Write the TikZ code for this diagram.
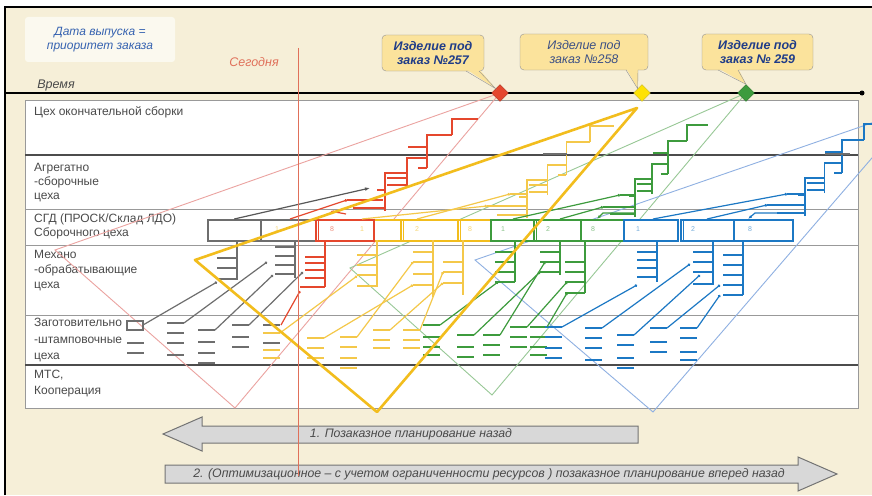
\documentclass[tikz,border=0pt]{standalone}
\usepackage{fontspec}
\setmainfont{Liberation Sans}
\usetikzlibrary{arrows.meta,shapes.geometric}
\definecolor{cream}{HTML}{F6EFD8}
\definecolor{txt}{HTML}{4A4A4A}
\definecolor{gord}{HTML}{6E6E6E}
\definecolor{rord}{HTML}{E5472D}
\definecolor{yord}{HTML}{F2BD1D}
\definecolor{ylt}{HTML}{F4C84A}
\definecolor{gnord}{HTML}{3D9B3D}
\definecolor{bord}{HTML}{1C78C4}
\definecolor{rtri}{HTML}{EBA3A0}
\definecolor{gtri}{HTML}{98C896}
\definecolor{btri}{HTML}{8FB0E2}
\definecolor{callfill}{HTML}{FBE39C}
\definecolor{navy}{HTML}{1F3C88}
\definecolor{tlblue}{HTML}{3562B0}
\definecolor{arrfill}{HTML}{D8D8D8}
\definecolor{today}{HTML}{E0705A}
\tikzset{
 rowlbl/.style={anchor=north west, align=left, inner sep=0pt, text=txt, font=\fontsize{12}{13.8}\selectfont},
 sgdbox/.style={draw=#1, fill=white, line width=1.5pt, minimum height=21pt, inner sep=0pt, anchor=north west, rectangle},
 boxnum/.style={font=\fontsize{7}{8}\selectfont, text=#1!60, inner sep=0pt},
 conn/.style={line width=1.2pt, -{Circle[length=2.6pt]}},
 tick/.style={line width=1.5pt},
 callbox/.style={draw=gray!85, fill=callfill, rounded corners=4pt, minimum height=36pt, align=center, inner sep=1pt, font=\fontsize{12.5}{13.5}\selectfont\bfseries\itshape, text=navy},
 mark/.style={diamond, minimum size=17pt, inner sep=0pt, draw=#1!75!black, fill=#1},
 bigarrow/.style={fill=arrfill, draw=gray!90!black, line width=1pt},
 arrtext/.style={font=\fontsize{12.3}{13}\selectfont\itshape, text=txt, inner sep=0pt}
}
\newcommand\stairs[4]{%
\begin{scope}[shift={(#2,#3)}, xscale=#4]
\draw[#1, line width=1.6pt] (0,0) -- (0,-38) -- (22,-38)
  (22,-23) -- (22,-53) -- (42,-53)
  (42,-43) -- (42,-76) -- (67,-76)
  (67,-76) -- (67,-92) -- (93,-92)
  (2,-33) -- (22,-33) (2,-26) -- (22,-26)
  (23,-64) -- (42,-64) (33,-43) -- (42,-43)
  (-8,-21) -- (0,-21) (-32,-3) -- (0,-3);
\end{scope}}
\newcommand\brk[5]{%
 \draw[#1, tick] (#2,#3) -- (#2,#4);
 \foreach \t in {#5} \draw[#1, tick] (#2-20,\t) -- (#2,\t);}
\newcommand\dcol[3]{\foreach \t in {#3} \draw[#1, tick] (#2,\t) -- (#2+17,\t);}
\begin{document}
\begin{tikzpicture}[x=1pt,y=-1pt]
\useasboundingbox (0,0) rectangle (872,495);
\fill[white] (0,0) rectangle (872,495);
\fill[cream] (5,7) rectangle (872,495);
\draw[black, line width=2.5pt] (5,495) -- (5,7) -- (872,7);

% table
\filldraw[fill=white, draw=gray!80, line width=0.9pt] (25,100) rectangle (858,408);
\draw[line width=1.3pt, black!70] (25,155) -- (858,155);
\draw[gray!80, line width=0.9pt] (25,209) -- (858,209) (25,245) -- (858,245) (25,315) -- (858,315);
\draw[line width=1.3pt, black!70] (25,365) -- (858,365);

\node[rowlbl] (r1) at (34,106) {Цех окончательной сборки};
\node[rowlbl] (r2) at (34,163) {Агрегатно\\-сборочные\\цеха};
\node[rowlbl] (r3) at (34,214) {СГД (ПРОСК/Склад ЛДО)\\Сборочного цеха};
\node[rowlbl, font=\fontsize{12}{15}\selectfont] (r4) at (34,250) {Механо\\-обрабатывающие\\цеха};
\node[rowlbl, font=\fontsize{12}{16.5}\selectfont] (r5) at (34,318) {Заготовительно\\-штамповочные\\цеха};
\node[rowlbl, font=\fontsize{12}{16}\selectfont] (r6) at (34,370) {МТС,\\Кооперация};

% thin triangles
\draw[rtri, line width=0.9pt] (500,93) -- (55,250) -- (235,408) -- cycle;
\draw[gtri, line width=0.9pt] (746,93) -- (350,268) -- (492,395) -- cycle;
\draw[btri, line width=0.9pt] (915,108) -- (475,260) -- (653,412) -- cycle;

% staircases
\stairs{rord}{385}{211}{1}
\stairs{ylt}{527}{218}{0.94}
\stairs{gnord}{635}{217}{0.78}
\stairs{bord}{805}{216}{0.88}
\draw[gord, line width=1.5pt] (543,154) -- (567,154) (825,154) -- (850,154);

% SGD boxes
\node[sgdbox=gord, minimum width=53pt] (gb1) at (207,219) {};
\node[sgdbox=gord, minimum width=55pt] (gb2) at (260,219) {};
\node[sgdbox=yord, minimum width=53pt] (yb1) at (347,219) {};
\node[sgdbox=rord, minimum width=58pt] (rb1) at (315,219) {};
\node[sgdbox=yord, minimum width=57pt] (yb2) at (400,219) {};
\node[sgdbox=yord, minimum width=33pt] (yb3) at (457,219) {};
\node[sgdbox=gnord, minimum width=43pt] (nb1) at (490,219) {};
\node[sgdbox=gnord, minimum width=47pt] (nb2) at (533,219) {};
\node[sgdbox=gnord, minimum width=43pt] (nb3) at (580,219) {};
\node[sgdbox=bord, minimum width=54pt] (bb1) at (623,219) {};
\node[sgdbox=bord, minimum width=53pt] (bb2) at (680,219) {};
\node[sgdbox=bord, minimum width=59pt] (bb3) at (733,219) {};
\draw[rord, line width=1.5pt] (318.5,219) -- (318.5,240);
\draw[yord, line width=1.5pt] (403.5,219) -- (403.5,240) (460.5,219) -- (460.5,240);
\draw[gnord, line width=1.5pt] (536.5,219) -- (536.5,240);
\draw[bord, line width=1.5pt] (683.5,219) -- (683.5,240);
\node[boxnum=yord] (lg2) at (277,229.5) {1};
\node[boxnum=rord] (lr1) at (332,229.5) {8};
\node[boxnum=yord] (ly1) at (362,229.5) {1};
\node[boxnum=yord] (ly2) at (417,229.5) {2};
\node[boxnum=yord] (ly3) at (470,229.5) {8};
\node[boxnum=gnord] (ln1) at (503,229.5) {1};
\node[boxnum=gnord] (ln2) at (548,229.5) {2};
\node[boxnum=gnord] (ln3) at (593,229.5) {8};
\node[boxnum=bord] (lb1) at (638,229.5) {1};
\node[boxnum=bord] (lb2) at (693,229.5) {2};
\node[boxnum=bord] (lb3) at (750,229.5) {8};

% box -> staircase connectors
\draw[gord!80!black, line width=1.2pt, -{Latex[length=5pt]}] (gb1.north) -- (370,188);
\draw[rord, conn] (290,219) -- (347,200);
\draw[rord, line width=1.4pt] (347,200) -- (383,200);
\draw[rord, line width=1.2pt, -{Latex[length=4pt]}] (346,214) -- (330,211);
\draw[ylt, conn] (362,219) -- (487,206);
\draw[ylt, line width=1.4pt] (487,206) -- (527,206);
\draw[ylt, conn] (417,219) -- (510,194);
\draw[ylt, line width=1.4pt] (510,194) -- (527,194);
\draw[gnord, conn] (513,219) -- (620,195);
\draw[gnord, line width=1.4pt] (620,195) -- (635,195);
\draw[gnord, conn] (560,219) -- (603,207);
\draw[gnord, line width=1.4pt] (603,207) -- (635,207);
\draw[gnord, line width=1.2pt, -{Latex[length=4pt]}] (635,213) -- (603,213) -- (597,219);
\draw[bord, conn] (653,219) -- (787,194);
\draw[bord, line width=1.4pt] (787,194) -- (805,194);
\draw[bord, conn] (707,219) -- (767,205);
\draw[bord, line width=1.4pt] (767,205) -- (805,205);
\draw[bord, line width=1.2pt, -{Latex[length=4pt]}] (805,213) -- (755,213) -- (748,219);

% brackets (Mechano row)
\brk{gord}{237}{240}{280}{258,268,279}
\brk{gord}{295}{240}{278}{247,256,265,274}
\brk{rord}{325}{240}{287}{257,263,270,278}
\draw[rord, tick] (300,287) -- (325,287);
\brk{ylt}{377}{240}{287}{255,265,275,286}
\brk{ylt}{433}{240}{297}{252,262,274,285}
\brk{ylt}{463}{240}{295}{262,272,283}
\brk{gnord}{515}{240}{282}{252,262,272,282}
\brk{gnord}{560}{240}{275}{252,262,272}
\brk{gnord}{585}{240}{293}{262,272,282,293}
\brk{bord}{657}{240}{282}{252,260,268,277}
\brk{bord}{713}{240}{285}{252,262,272,284}
\brk{bord}{743}{240}{295}{255,265,275,285,295}

% dashes (blank row)
\draw[gord, line width=1.3pt] (127,321) rectangle (143,330);
\dcol{gord}{127}{343,353}
\dcol{gord}{167}{323,333,343,355}
\dcol{gord}{198}{330,342,353,363}
\dcol{gord}{232}{325,337,347}
\dcol{gord}{263}{325,343}
\dcol{ylt}{263}{333,350,358}
\dcol{ylt}{307}{338,348,358}
\dcol{ylt}{340}{337,347,358,368}
\dcol{ylt}{373}{330,340,348}
\dcol{ylt}{403}{330,340,348}
\dcol{gnord}{423}{325,337,347,355}
\dcol{gnord}{457}{335,347,357}
\dcol{gnord}{483}{335,345,355}
\dcol{gnord}{510}{327,337,347}
\dcol{gnord}{530}{327,337,347,355}
\dcol{bord}{545}{327,337,348,358}
\dcol{bord}{585}{328,338,348,360}
\dcol{bord}{617}{335,345,358,368}
\dcol{bord}{650}{328,342,352}
\dcol{bord}{680}{328,338,352,360}

% dash -> bracket connectors
\draw[gord, conn] (143,325) -- (217,282);
\draw[gord, conn] (184,323) -- (267,262);
\draw[gord, conn] (215,330) -- (273,275);
\draw[gord, conn] (249,325) -- (303,272);
\draw[rord, conn] (281,325) -- (300,291);
\draw[ylt, conn] (280,333) -- (357,276);
\draw[ylt, conn] (324,338) -- (413,285);
\draw[ylt, conn] (357,337) -- (413,262);
\draw[ylt, conn] (390,330) -- (443,283);
\draw[ylt, conn] (420,330) -- (443,272);
\draw[gnord, conn] (440,325) -- (498,282);
\draw[gnord, conn] (474,335) -- (540,272);
\draw[gnord, conn] (500,335) -- (545,262);
\draw[gnord, conn] (527,327) -- (567,282);
\draw[gnord, conn] (547,327) -- (567,293);
\draw[bord, conn] (562,327) -- (637,285);
\draw[bord, conn] (602,328) -- (690,264);
\draw[bord, conn] (634,335) -- (700,275);
\draw[bord, conn] (667,328) -- (720,285);
\draw[bord, conn] (697,328) -- (720,295);

% thick yellow triangle
\draw[yord, line width=2.6pt, line join=round] (637,108) -- (195,260) -- (377,412) -- cycle;

% top-left box
\node[fill=white!60!cream, rounded corners=3pt, minimum width=150pt, minimum height=45pt, align=center, font=\fontsize{12}{14}\selectfont\itshape, text=tlblue] (prio) at (100,39.5) {Дата выпуска =\\приоритет заказа};
\node[font=\fontsize{12.5}{13}\selectfont\itshape, text=today, inner sep=0pt] (todaylbl) at (254,62) {Сегодня};
\node[font=\fontsize{12.5}{13}\selectfont\itshape, text=txt, inner sep=0pt] (time) at (56,85) {Время};

% timeline
\draw[black, line width=2pt] (5,93) -- (862,93);
\fill[black] (862,93) circle (2.5);
\node[mark=rord] (d1) at (500,93) {};
\node[mark=yellow!85!orange] (d2) at (642,93) {};
\node[mark=gnord] (d3) at (746,93) {};

% callouts
\node[callbox, minimum width=102pt] (c1) at (433,53) {Изделие под\\заказ №257};
\node[callbox, minimum width=128pt, font=\fontsize{12.5}{13.5}\selectfont\itshape, text=navy!70!gray] (c2) at (584,52) {Изделие под\\заказ №258};
\node[callbox, minimum width=111pt] (c3) at (757.5,52) {Изделие под\\заказ № 259};
\fill[callfill] (466,69) -- (d1.north west) -- (479,69) -- cycle;
\draw[gray!85] (466,71) -- (d1.north west) -- (479,71);
\fill[callfill] (626,68) -- (d2.north west) -- (638,68) -- cycle;
\draw[gray!85] (626,70) -- (d2.north west) -- (638,70);
\fill[callfill] (718,68) -- (d3.north) -- (738,68) -- cycle;
\draw[gray!85] (718,70) -- (d3.north) -- (738,70);

% bottom arrows
\filldraw[bigarrow] (163,434) -- (202,417) -- (202,426) -- (638,426) -- (638,443) -- (202,443) -- (202,451) -- cycle;
\node[arrtext] (plan1) at (411,434.5) {1. Позаказное планирование назад};
\filldraw[bigarrow] (165,465) -- (798,465) -- (798,457) -- (837,474) -- (798,491) -- (798,483) -- (165,483) -- cycle;
\node[arrtext] (plan2) at (489,474) {2. (Оптимизационное – с учетом ограниченности ресурсов ) позаказное планирование вперед назад};

% today line
\draw[today, line width=0.8pt] (298,48) -- (298,476);
\end{tikzpicture}
\end{document}
